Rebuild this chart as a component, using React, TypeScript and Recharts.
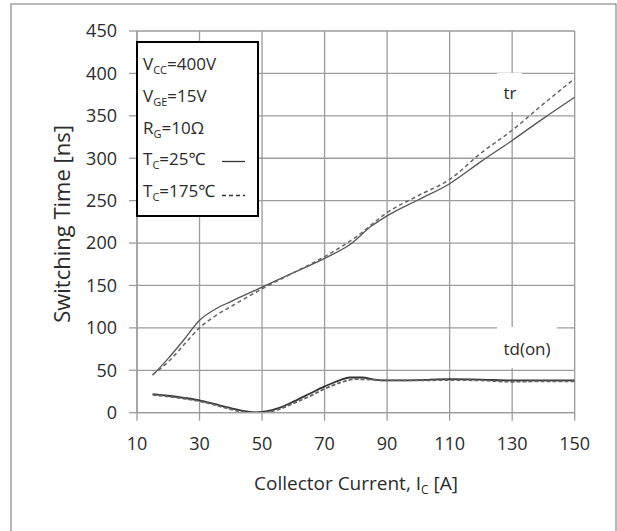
import React from 'react';
import { LineChart, Line, XAxis, YAxis, CartesianGrid } from 'recharts';

// Collector current [A] and switching times [ns]
const tr25X = [15, 20, 25, 30, 35, 40, 50, 60, 70, 78, 85, 90, 100, 110, 120, 130, 140, 150];
const tr25Y = [44, 64, 86, 109, 122, 131, 148, 165, 182, 198, 220, 232, 251, 270, 296, 321, 347, 372];

const tr175X = [15, 20, 25, 30, 35, 40, 50, 60, 70, 80, 90, 100, 110, 120, 130, 140, 150];
const tr175Y = [45, 60, 80, 100, 114, 125, 146, 165, 184, 207, 236, 256, 275, 306, 333, 364, 394];

const td25X = [15, 20, 25, 30, 35, 40, 45, 48, 52, 55, 60, 65, 70, 75, 78, 82, 86, 90, 100, 110, 120, 130, 140, 150];
const td25Y = [22, 20, 17.5, 14.5, 10, 5.5, 1.5, 0.5, 2, 5, 13, 22, 31, 38.5, 41.5, 41.5, 39, 38, 38.5, 39.5, 39, 38, 38, 38];

const td175X = [15, 20, 25, 30, 35, 40, 45, 48, 52, 55, 60, 65, 70, 75, 80, 85, 90, 100, 110, 120, 130, 140, 150];
const td175Y = [21, 19, 16.5, 13.5, 9, 4, 0.5, 0, 1, 3.5, 11, 19, 28, 35.5, 39.5, 39, 38, 38, 38.5, 38, 36.5, 37, 37];

const xTicks = [10, 30, 50, 70, 90, 110, 130, 150];
const yTicks = [0, 50, 100, 150, 200, 250, 300, 350, 400, 450];

const toPts = (xs: number[], ys: number[]) => xs.map((x, i) => ({ x, y: ys[i] }));

const tr25 = toPts(tr25X, tr25Y);
const tr175 = toPts(tr175X, tr175Y);
const td25 = toPts(td25X, td25Y);
const td175 = toPts(td175X, td175Y);

const FONT = '"Open Sans", "Noto Sans", sans-serif';
const GRID = '#9c9c9c';
const TXT = '#2b2b2b';

const Sub = ({ main, sub, rest, x, y }: { main: string; sub: string; rest: string; x: number; y: number }) => (
  <text x={x} y={y} fontSize={17} fill={TXT} fontFamily={FONT}>
    <tspan>{main}</tspan>
    <tspan fontSize={11} dy={4}>{sub}</tspan>
    <tspan fontSize={17} dy={-4}>{rest}</tspan>
  </text>
);

export default function App() {
  return (
    <div style={{ position: 'absolute', left: 0, top: 0, width: 617, height: 531, overflow: 'hidden', background: '#fff' }}>
      <LineChart
        width={617}
        height={531}
        margin={{ top: 31, right: 42.3, bottom: 88.3, left: 77 }}
      >
        <CartesianGrid stroke={GRID} strokeWidth={1.3} horizontalValues={yTicks} verticalValues={xTicks} />
        <XAxis
          type="number"
          dataKey="x"
          domain={[10, 150]}
          ticks={xTicks}
          allowDataOverflow
          height={30}
          tickSize={8}
          tickMargin={17}
          axisLine={{ stroke: GRID, strokeWidth: 1.3 }}
          tickLine={{ stroke: GRID, strokeWidth: 1.3 }}
          tick={{ fill: TXT, fontSize: 18, fontFamily: FONT }}
        />
        <YAxis
          type="number"
          dataKey="y"
          domain={[0, 450]}
          ticks={yTicks}
          allowDataOverflow
          width={60}
          tickSize={8}
          tickMargin={12}
          axisLine={{ stroke: GRID, strokeWidth: 1.3 }}
          tickLine={{ stroke: GRID, strokeWidth: 1.3 }}
          tick={{ fill: TXT, fontSize: 18, fontFamily: FONT }}
        />
        <Line data={tr25} dataKey="y" type="monotone" stroke="#555" strokeWidth={1.3} dot={false} isAnimationActive={false} />
        <Line data={tr175} dataKey="y" type="monotone" stroke="#666" strokeWidth={1.5} strokeDasharray="4 3" dot={false} isAnimationActive={false} />
        <Line data={td25} dataKey="y" type="monotone" stroke="#333" strokeWidth={1.8} dot={false} isAnimationActive={false} />
        <Line data={td175} dataKey="y" type="monotone" stroke="#666" strokeWidth={1.8} strokeDasharray="4 2" dot={false} isAnimationActive={false} />
      </LineChart>
      <svg width={617} height={531} style={{ position: 'absolute', left: 0, top: 0, pointerEvents: 'none' }}>
        <rect x={11} y={4} width={605} height={545} fill="none" stroke="#8a8a8a" strokeWidth={1.2} />
        {/* condition box */}
        <rect x={137} y={42} width={121} height={174} fill="#fff" stroke="#000" strokeWidth={2} />
        <Sub x={143} y={70} main="V" sub="CC" rest="=400V" />
        <Sub x={143} y={102} main="V" sub="GE" rest="=15V" />
        <Sub x={143} y={134} main="R" sub="G" rest="=10Ω" />
        <Sub x={143} y={165} main="T" sub="C" rest="=25℃" />
        <Sub x={143} y={197} main="T" sub="C" rest="=175℃" />
        <line x1={222} y1={161.5} x2={245} y2={161.5} stroke="#333" strokeWidth={1.3} />
        <line x1={222} y1={195.5} x2={245} y2={195.5} stroke="#333" strokeWidth={1.3} strokeDasharray="4 3" />
        {/* curve labels */}
        <rect x={497} y={73} width={25} height={39} fill="#fff" />
        <text x={510} y={99} fontSize={17} fill={TXT} fontFamily={FONT} textAnchor="middle">tr</text>
        <rect x={497} y={327} width={60} height={41} fill="#fff" />
        <text x={527} y={355} fontSize={17} fill={TXT} fontFamily={FONT} textAnchor="middle">td(on)</text>
        {/* axis titles */}
        <text x={356} y={490} fontSize={19} fill={TXT} fontFamily={FONT} textAnchor="middle">
          <tspan>Collector Current, I</tspan>
          <tspan fontSize={12} dy={4}>C</tspan>
          <tspan fontSize={19} dy={-4}> [A]</tspan>
        </text>
        <text x={0} y={0} fontSize={22} fill={TXT} fontFamily={FONT} textAnchor="middle" transform="translate(70 224) rotate(-90)">
          Switching Time [ns]
        </text>
      </svg>
    </div>
  );
}
